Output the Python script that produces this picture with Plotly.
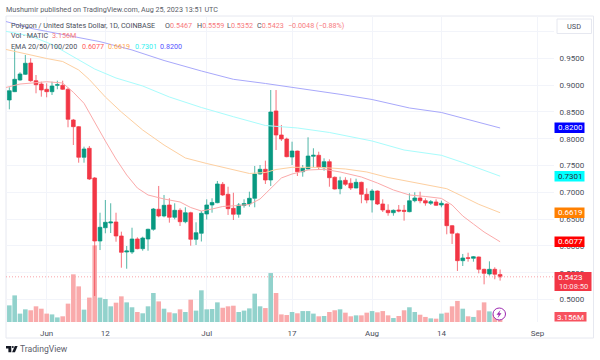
import pandas as pd
import plotly.graph_objects as go

start_date = "2023-05-25"
opens = [.8722,.8877,.9095,.9201,.9412,.9082,.9020,.8922,.8877,.8996,.8996,.8922,.8349,.8224,.7653,.7821,.7267,.6091,.6339,.6427,.6446,.6185,.5886,.5886,.6129,.5948,.6129,.6310,.6683,.6558,.6763,.6534,.6664,.6451,.6619,.6123,.6235,.6595,.6763,.6806,.7149,.6963,.6701,.6590,.6754,.6782,.6888,.7341,.7429,.7229,.8517,.8069,.7994,.7658,.7770,.7384,.7435,.7672,.7690,.7459,.7571,.7280,.7067,.7224,.7168,.7080,.7186,.6963,.6856,.7024,.6782,.6664,.6619,.6670,.6664,.6638,.6843,.6894,.6843,.6795,.6819,.6763,.6782,.6377,.6227,.5724,.5780,.5768,.5793,.5563,.5475,.5563,.5467]
highs = [.8959,.9668,.9239,.9562,.9500,.9188,.9063,.9033,.9063,.9082,.9082,.8951,.8368,.8237,.7851,.7864,.7285,.6619,.6856,.6795,.6619,.6265,.5998,.6339,.6160,.6172,.6321,.6707,.7118,.6950,.6888,.6795,.6702,.6720,.6637,.6440,.6651,.6869,.6888,.7211,.7192,.7104,.6992,.6800,.6869,.7011,.7491,.7509,.7590,.8908,.8908,.8256,.8019,.7944,.7776,.7509,.8026,.7821,.7757,.7634,.7615,.7295,.7291,.7280,.7261,.7254,.7198,.7074,.7061,.7033,.6869,.6776,.6679,.6763,.6763,.6981,.7000,.7011,.6888,.6856,.6869,.6843,.6795,.6390,.6246,.5849,.5873,.5811,.5802,.5574,.5712,.5601,.5559]
lows = [.8548,.8870,.9082,.9188,.9063,.8847,.8784,.8772,.8815,.8922,.8909,.8213,.7882,.7552,.7552,.7229,.5065,.5923,.6235,.6240,.6078,.5593,.5574,.5849,.5937,.5910,.5910,.6283,.6534,.6534,.6433,.6496,.6371,.6422,.6004,.6017,.6082,.6492,.6619,.6795,.6931,.6577,.6483,.6526,.6713,.6731,.6720,.7332,.7155,.7118,.7789,.7957,.7653,.7509,.7304,.7291,.7429,.7466,.7416,.7403,.7104,.7052,.6963,.7118,.7043,.7074,.6795,.6795,.6623,.6763,.6632,.6563,.6563,.6627,.6470,.6627,.6813,.6795,.6750,.6763,.6744,.6720,.6216,.6035,.5532,.5625,.5705,.5705,.5488,.5283,.5444,.5377,.5352]
closes = [.8896,.9108,.9207,.9407,.9082,.9007,.8909,.8877,.8983,.9007,.8922,.8362,.8224,.7653,.7808,.7248,.6091,.6347,.6440,.6446,.6185,.5880,.5905,.6129,.5948,.6147,.6310,.6688,.6558,.6757,.6534,.6664,.6451,.6619,.6123,.6246,.6608,.6763,.6810,.7155,.6950,.6694,.6590,.6763,.6791,.6888,.7341,.7429,.7229,.8498,.8069,.7994,.7664,.7770,.7384,.7448,.7677,.7690,.7466,.7571,.7272,.7061,.7216,.7149,.7080,.7186,.6963,.6856,.7024,.6782,.6670,.6619,.6664,.6651,.6645,.6843,.6894,.6843,.6800,.6825,.6757,.6795,.6377,.6235,.5724,.5774,.5768,.5798,.5563,.5488,.5563,.5471,.5423]
volumes = [10.5,16.8,5.3,8.0,7.4,9.9,8.4,5.3,4.8,2.9,3.6,11.6,30.1,22.5,7.8,15.4,48.4,15.4,14.5,9.9,12.2,16.2,12.4,9.3,6.3,5.5,9.9,18.3,13.0,8.4,6.1,5.5,8.0,6.3,14.1,7.2,20.0,8.0,8.2,12.4,9.0,9.9,10.3,6.3,7.2,8.6,17.9,9.9,8.8,30.9,18.3,4.8,4.4,6.3,5.5,6.9,6.9,5.3,3.6,3.8,6.3,7.4,8.0,5.9,3.6,4.2,4.2,5.9,6.9,6.1,6.9,4.2,2.5,3.8,7.4,9.3,6.3,4.6,3.2,2.3,2.1,5.3,5.9,9.9,13.3,8.4,3.6,3.2,7.4,12.4,6.7,4.8,3.156]

# EMA readings: day offset from the first candle, then the value read at that day
ema20_day = [-1,2,5,7,10,12,14,16,18,20,22,24,26,29,32,34,36,38,40,43,45,47,49,51,53,56,59,62,66,69,72,75,78,81,83,85,87,89,92]
ema20_val = [.8946,.9020,.9045,.9063,.9039,.8866,.8660,.8302,.7957,.7621,.7323,.7080,.6950,.6875,.6819,.6716,.6651,.6688,.6735,.6754,.6772,.6875,.7080,.7267,.7341,.7416,.7429,.7379,.7285,.7173,.7043,.6950,.6922,.6886,.6763,.6558,.6408,.6259,.6077]
ema50_day = [-1,3,7,10,13,15,18,21,25,29,33,37,42,45,48,50,53,58,63,67,71,76,82,85,88,92]
ema50_val = [.9673,.9580,.9496,.9440,.9282,.9104,.8778,.8498,.8162,.7882,.7640,.7537,.7416,.7351,.7369,.7425,.7466,.7466,.7435,.7379,.7276,.7183,.7067,.6923,.6776,.6619]
ema100_day = [-1,4,8,12,16,20,25,30,36,42,48,54,60,68,74,81,85,92]
ema100_val = [1.0009,.9916,.9757,.9530,.9300,.9132,.8983,.8778,.8582,.8410,.8246,.8200,.8116,.7957,.7789,.7690,.7556,.7301]
ema200_day = [-1,4,10,17,23,29,36,42,48,54,62,68,75,81,92]
ema200_val = [1.0196,1.0060,.9944,.9810,.9655,.9459,.9263,.9108,.9030,.8946,.8828,.8731,.8573,.8489,.8200]

price_ticks = [0.5,0.55,0.6,0.65,0.7,0.75,0.8,0.85,0.9,0.95,1.0]
price_tick_text = ["0.5000","0.5500","0.6000","0.6500","0.7000","0.7500","0.8000","0.8500","0.9000","0.9500",""]
time_ticks = ["2023-06-01","2023-06-12","2023-07-01","2023-07-17","2023-08-01","2023-08-14","2023-09-01"]
time_tick_text = ["Jun","12","Jul","17","Aug","14","Sep"]
last_price = 0.5423

FONT = "Roboto"
GREEN, RED = "#089981", "#f23645"
TEXT = "#4a4e5a"
W, H = 600, 360
L, R, T, B = 6, 554, 16, 322
SMALL = 7.2

dates = pd.date_range(start_date, periods=len(opens), freq="D")
base = pd.Timestamp(start_date)
def day_dates(days):
    return [base + pd.Timedelta(days=d) for d in days]

fig = go.Figure()
fig.add_trace(go.Bar(x=dates, y=volumes, yaxis="y2", showlegend=False,
    marker=dict(color=["#92d2cc" if c >= o else "#f9aaab" for o, c in zip(opens, closes)], line_width=0)))
for days, vals, col in [
    (ema200_day, ema200_val, "#a8a8fb"),
    (ema100_day, ema100_val, "#a8fcfc"),
    (ema50_day, ema50_val, "#fdcfa0"),
    (ema20_day, ema20_val, "#fbaaaa")]:
    fig.add_trace(go.Scatter(x=day_dates(days), y=vals, mode="lines", showlegend=False,
                             line=dict(color=col, width=1)))
fig.add_trace(go.Candlestick(x=dates, open=opens, high=highs, low=lows, close=closes, showlegend=False,
    whiskerwidth=0,
    increasing=dict(line=dict(color="rgba(8,153,129,.7)", width=1), fillcolor=GREEN),
    decreasing=dict(line=dict(color="rgba(242,54,69,.7)", width=1), fillcolor=RED)))

def px(x): return (x - L) / (R - L)
def py(y): return (B - y) / (B - T)

shapes = [dict(type="line", xref="paper", yref="y", x0=0, x1=1, y0=last_price, y1=last_price,
               line=dict(color="#f9a3aa", width=1, dash="1px,2px"), layer="above")]
def rect(x0, y0, x1, y1, fill, line=None):
    shapes.append(dict(type="rect", xref="paper", yref="paper", x0=px(x0), x1=px(x1), y0=py(y0), y1=py(y1),
                       fillcolor=fill, line=dict(color=line or fill, width=1 if line else 0), layer="above"))
def poly(points, fill):
    d = "M " + " L ".join(f"{px(x):.5f},{py(y):.5f}" for x, y in points) + " Z"
    shapes.append(dict(type="path", xref="paper", yref="paper", path=d, fillcolor=fill, line=dict(width=0), layer="above"))

annos = []
def text(x, y, s, color=TEXT, size=8, anchor="left"):
    annos.append(dict(xref="paper", yref="paper", x=px(x), y=py(y), text=s, showarrow=False,
                      xanchor=anchor, yanchor="middle", align=anchor,
                      font=dict(family=FONT, size=size, color=color), borderpad=0, borderwidth=0))

# outer frame
shapes.append(dict(type="rect", xref="paper", yref="paper", x0=px(6), x1=px(593.5), y0=py(16), y1=py(338),
                   line=dict(color="#e6e8f0", width=1), fillcolor="rgba(0,0,0,0)", layer="below"))
# currency box
rect(557, 19, 591.5, 33.5, "#ffffff", "#e6e8f0")
text(574, 26.5, "USD", TEXT, 7.4, "center")
# price-scale labels
for y0, y1, fill, s, col in [
    (122.5, 133, "#0000ff", "0.8200", "#ffffff"),
    (171, 181.5, "#00ffff", "0.7301", "#2a2e39"),
    (207.5, 218, "#ff8000", "0.6619", "#ffffff"),
    (236.5, 247, "#ff0000", "0.6077", "#ffffff")]:
    rect(554.5, y0, 584.5, y1, fill)
    text(570.5, (y0 + y1) / 2, s, col, 8, "center")
rect(554.5, 272, 591.5, 291, RED)
text(570.5, 277, "0.5423", "#ffffff", 8, "center")
text(573, 286, "10:08:50", "#fde3e5", 7.6, "center")
rect(554.5, 312, 586.5, 321.5, "#f7525f")
text(570.5, 317, "3.156M", "#ffffff", 8, "center")

# lightning badge
shapes.append(dict(type="circle", xref="paper", yref="paper", x0=px(493), x1=px(505.5), y0=py(308), y1=py(320),
                   fillcolor="#ffffff", line=dict(color="#9c27b0", width=1), layer="above"))
poly([(500.5,310),(496.5,314.8),(498.8,314.8),(497.5,318.2),(501.5,313.2),(499.2,313.2)], "#9c27b0")

# TradingView logo
poly([(6,346),(11.3,346),(11.3,352.3),(8.4,352.3),(8.4,348.4),(6,348.4)], "#131722")
shapes.append(dict(type="circle", xref="paper", yref="paper", x0=px(11.8), x1=px(13.8), y0=py(346), y1=py(348),
                   fillcolor="#131722", line=dict(width=0), layer="above"))
poly([(14.8,346),(17.6,346),(15,352.3),(12.1,352.3)], "#131722")
text(20, 349, "TradingView", "#5d606b", 8.6)

# header
text(6, 9, "Mushumir published on TradingView.com, Aug 25, 2023 13:51 UTC", "#5a5d68", SMALL)
text(11, 25, "Polygon / United States Dollar, 1D, COINBASE", TEXT, SMALL)
pale = "#f77c80"
for x, a, b in [(165, "O", "0.5467"), (196.5, "H", "0.5559"), (226.5, "L", "0.5352"), (256.5, "C", "0.5423")]:
    text(x, 25, f'<span style="color:{TEXT}">{a}</span>{b}', pale, SMALL)
text(288, 25, "\u22120.0048 (\u22120.88%)", pale, SMALL)
text(11, 35.5, "Vol \u00b7 MATIC", TEXT, SMALL)
text(52, 35.5, "3.156M", pale, SMALL)
text(11, 46, "EMA 20/50/100/200", TEXT, SMALL)
for x, s, col in [(81.5, "0.6077", "#ff5a5a"), (108, "0.6619", "#ffa64d"), (134.5, "0.7301", "#33f0f0"), (160, "0.8200", "#5555ff")]:
    text(x, 46, s, col, SMALL)

fig.update_layout(
    width=W, height=H, autosize=False, margin=dict(l=L, r=W - R, t=T, b=H - B),
    paper_bgcolor="#ffffff", plot_bgcolor="#ffffff", showlegend=False,
    bargap=0.14, boxgap=0.3, boxgroupgap=0, shapes=shapes, annotations=annos,
    font=dict(family=FONT, size=8, color=TEXT),
    xaxis=dict(type="date", range=["2023-05-24 09:00", "2023-09-04 02:30"], rangeslider=dict(visible=False),
               tickmode="array", tickvals=time_ticks, ticktext=time_tick_text, showgrid=True, gridcolor="#f2f4fa",
               gridwidth=1, zeroline=False, showline=False, ticks="outside", ticklen=3, tickcolor="rgba(0,0,0,0)",
               tickfont=dict(size=8, color=TEXT), anchor="y"),
    yaxis=dict(range=[0.458, 1.0289], side="right", overlaying="y2", tickmode="array", tickvals=price_ticks,
               ticktext=price_tick_text, showgrid=True, gridcolor="#f2f4fa", gridwidth=1, zeroline=False,
               showline=False, ticks="outside", ticklen=3, tickcolor="rgba(0,0,0,0)",
               tickfont=dict(size=8, color=TEXT)),
    yaxis2=dict(range=[0, 193.2], visible=False, showgrid=False, zeroline=False, fixedrange=True),
)
fig.write_html("out.html", config=dict(displayModeBar=False),
               post_script="document.body.style.margin='0';document.documentElement.style.overflow='hidden';")
